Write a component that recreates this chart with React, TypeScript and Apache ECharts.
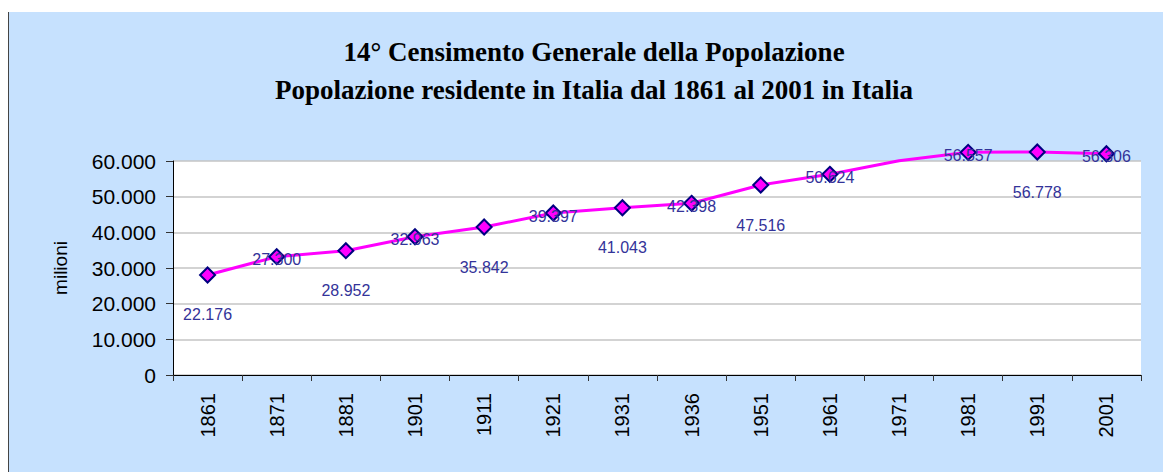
import React, { useEffect, useRef } from "react";
import * as echarts from "echarts";

const years = ["1861", "1871", "1881", "1901", "1911", "1921", "1931", "1936", "1951", "1961", "1971", "1981", "1991", "2001"];
// population labels (thousands)
const population = [22176, 27300, 28952, 32963, 35842, 39397, 41043, 42398, 47516, 50624, 54137, 56557, 56778, 56306];
// plotted values as they appear on the chart
const plotted = [28040, 33170, 34850, 38770, 41490, 45420, 46900, 48140, 53270, 56270, 60080, 62430, 62520, 62040];
const yTicks = [0, 10000, 20000, 30000, 40000, 50000, 60000];
const noMarkerYears = ["1971"];

const fmt = (v: number) => {
  const s = String(Math.round(v));
  return s.replace(/\B(?=(\d{3})+(?!\d))/g, ".");
};

export default function App() {
  const ref = useRef<HTMLDivElement>(null);
  useEffect(() => {
    if (!ref.current) return;
    const chart = echarts.init(ref.current, undefined, { renderer: "svg" });
    const data = years.map((y, i) => ({
      value: plotted[i],
      symbol: noMarkerYears.includes(y) ? "none" : "diamond",
      label: {
        offset: [0, i % 2 === 0 ? 40 : 3],
      },
    }));
    chart.setOption({
      animation: false,
      backgroundColor: "#C6E1FE",
      title: {
        text: "14° Censimento Generale della Popolazione\nPopolazione residente in Italia dal 1861 al 2001 in Italia",
        left: 580,
        top: 16,
        textAlign: "center",
        textStyle: {
          fontFamily: "'Liberation Serif', 'Times New Roman', serif",
          fontWeight: "bold",
          fontSize: 27,
          lineHeight: 38,
          color: "#000",
        },
      },
      grid: {
        left: 164,
        right: 22,
        top: 149,
        bottom: 97,
        show: true,
        backgroundColor: "#ffffff",
        borderWidth: 0,
      },
      xAxis: {
        type: "category",
        data: years,
        boundaryGap: true,
        axisLine: { show: true, lineStyle: { color: "#000", width: 1 } },
        axisTick: { show: true, length: 6, alignWithLabel: false, lineStyle: { color: "#333" } },
        axisLabel: {
          rotate: 90,
          margin: 18,
          fontSize: 20,
          fontFamily: "'Liberation Sans', Arial, sans-serif",
          color: "#000",
          interval: 0,
        },
        splitLine: { show: false },
      },
      yAxis: {
        type: "value",
        min: 0,
        max: 60000,
        interval: 10000,
        name: "milioni",
        nameLocation: "middle",
        nameGap: 103,
        nameRotate: 90,
        nameTextStyle: {
          fontSize: 19,
          fontFamily: "'Liberation Sans', Arial, sans-serif",
          color: "#000",
        },
        axisLine: { show: true, lineStyle: { color: "#000", width: 1 } },
        axisTick: { show: true, length: 7, inside: false, lineStyle: { color: "#333" } },
        axisLabel: {
          fontSize: 21,
          margin: 17,
          fontFamily: "'Liberation Sans', Arial, sans-serif",
          color: "#000",
          formatter: (v: number) => (yTicks.includes(v) ? fmt(v) : ""),
        },
        splitLine: { show: true, lineStyle: { color: "#c4c4c4", width: 1.5 } },
      },
      series: [
        {
          type: "line",
          data,
          clip: false,
          symbol: "diamond",
          symbolSize: 15,
          lineStyle: { color: "#FF00FF", width: 3 },
          itemStyle: { color: "#FF00FF", borderColor: "#000080", borderWidth: 2 },
          label: {
            show: true,
            position: "inside",
            fontSize: 16,
            fontFamily: "'Liberation Sans', Arial, sans-serif",
            color: "#333399",
            formatter: (p: any) => fmt(population[p.dataIndex]),
          },
          z: 3,
        },
      ],
    });
    return () => chart.dispose();
  }, []);
  return (
    <div
      ref={ref}
      style={{
        position: "absolute",
        left: 8,
        top: 12,
        width: 1155,
        height: 460,
        borderLeft: "1px solid #444",
        boxSizing: "border-box",
      }}
    />
  );
}
